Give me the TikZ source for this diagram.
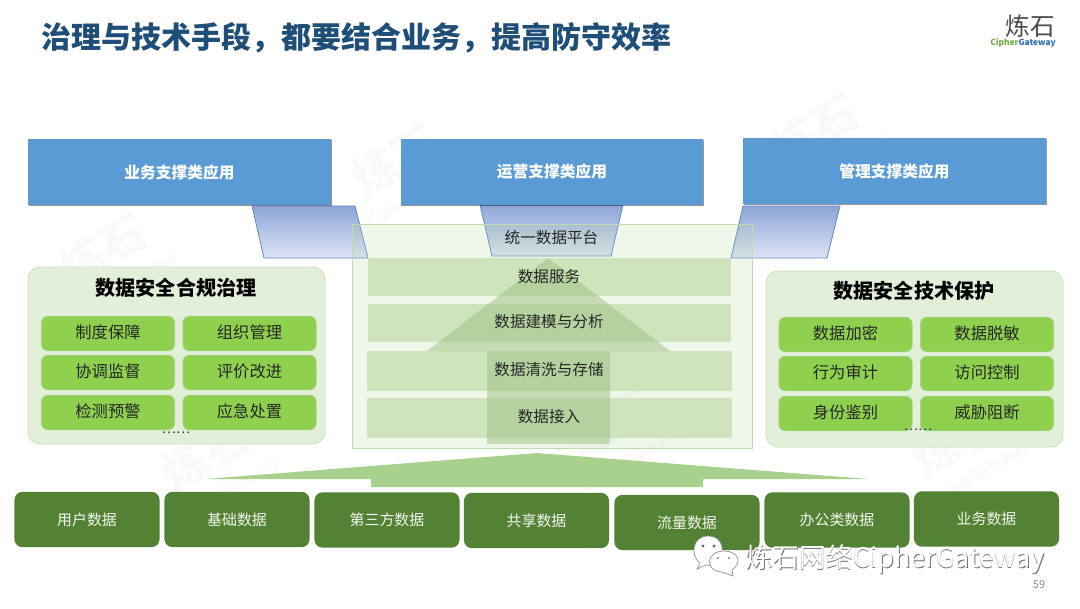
\documentclass[tikz,border=0pt]{standalone}
\usepackage{fontspec}
\setmainfont{Noto Sans CJK SC}
\usetikzlibrary{shadows}
\definecolor{appblue}{HTML}{5B9BD5}
\definecolor{titleblue}{HTML}{1F4E79}
\definecolor{panelfill}{HTML}{E2EFD9}
\definecolor{panelline}{HTML}{C9E2B8}
\definecolor{tilegreen}{HTML}{8FD14F}
\definecolor{tileline}{HTML}{A9D18E}
\definecolor{rowgreen}{HTML}{CDE4BC}
\definecolor{sourcegreen}{HTML}{548235}
\definecolor{arrowgreen}{HTML}{A9D18E}
\definecolor{stemgreen}{HTML}{9DC283}
\definecolor{linkline}{HTML}{4472C4}
\definecolor{linktop}{HTML}{8EA5D8}
\definecolor{linkbottom}{HTML}{DEE5F5}
\tikzset{
  appbox/.style={fill=appblue,text=white,font=\fontsize{11.8}{14}\selectfont\bfseries,
    drop shadow={shadow xshift=.5pt,shadow yshift=-1pt,opacity=.4,fill=black}},
  linkshape/.style={draw=linkline!85,line width=.6pt,top color=linktop,bottom color=linkbottom},
  groupbox/.style={draw=panelline,line width=.6pt,fill=panelfill,rounded corners=9pt},
  grouptitle/.style={font=\fontsize{15.1}{18}\selectfont\bfseries,text=black},
  tile/.style={draw=tileline,line width=.5pt,fill=tilegreen,rounded corners=5pt,text=black!85,font=\fontsize{12.2}{14}\selectfont},
  layerrow/.style={fill=rowgreen},
  layerlabel/.style={inner sep=0,text=black!85,font=\fontsize{11.7}{14}\selectfont},
  sourcebox/.style={fill=sourcegreen,rounded corners=6pt,text=white!92!sourcegreen,font=\fontsize{11.2}{14}\selectfont},
  seal/.style={text=black,opacity=.022,font=\fontsize{34}{36}\selectfont\bfseries,rotate=30},
  sealsub/.style={text=black,opacity=.022,font=\fontsize{11}{12}\selectfont\bfseries,rotate=30},
  bubble/.style={draw=black!45,line width=.5pt,fill=white}
}
\begin{document}
\begin{tikzpicture}[x=.75pt,y=-.75pt]
\useasboundingbox (0,0) rectangle (1080,608);
\clip (0,0) rectangle (1080,608);
\fill[white] (0,0) rectangle (1080,608);

% heading and logo
\node[anchor=west,inner sep=0,text=titleblue,font=\fontsize{22.5}{26}\selectfont\bfseries] (heading) at (41,38) {治理与技术手段，都要结合业务，提高防守效率};
\node[inner sep=0,text=black!70,font=\fontsize{18.5}{20}\selectfont] (logomark) at (1030,26) {炼石};
\node[inner sep=0,font=\fontsize{6.3}{7}\selectfont\bfseries] (logotext) at (1023,43) {\textcolor[HTML]{70AD47}{Cipher}\textcolor[HTML]{2F6EB5}{Gateway}};

% faint stamps behind the content
\foreach \px/\py/\n in {103/250/a,395/160/b,815/130/c,205/455/d,610/425/e,955/440/f}{
  \node[seal] (stamp\n) at (\px,\py) {炼石};
  \node[sealsub] (stampsub\n) at (\px+24,\py+35) {CipherGateway};
}

% connecting parallelograms below the application boxes
\path[linkshape] (252,206) -- (355,206) -- (368,258) -- (264,258) -- cycle;
\path[linkshape] (480,205) -- (623,205) -- (611,256) -- (492,256) -- cycle;
\path[linkshape] (743,206) -- (840,206) -- (827,258) -- (731,258) -- cycle;

% application boxes
\node[appbox,minimum width=227pt,minimum height=49.5pt,inner sep=0] (appA) at (179.5,172) {\raisebox{.7pt}{业务支撑类应用}};
\node[appbox,minimum width=227pt,minimum height=49.5pt,inner sep=0] (appB) at (552,172) {\raisebox{.7pt}{运营支撑类应用}};
\node[appbox,minimum width=227pt,minimum height=49.5pt,inner sep=0] (appC) at (894.5,171) {\raisebox{.7pt}{管理支撑类应用}};

% central platform panel
\path[draw=arrowgreen!75,line width=.7pt,fill=arrowgreen,fill opacity=.18] (352,224) rectangle (752,448);
\node[layerlabel] (platform) at (551.5,238) {统一数据平台};

% layer rows
\node[layerrow,minimum width=272pt,minimum height=28.5pt,inner sep=0] (rowA) at (549.75,277) {};
\node[layerrow,minimum width=272pt,minimum height=28.5pt,inner sep=0] (rowB) at (549.75,323) {};
\node[layerrow,minimum width=274pt,minimum height=30pt,inner sep=0] (rowC) at (549.5,371) {};
\node[layerrow,minimum width=274pt,minimum height=30pt,inner sep=0] (rowD) at (549.5,418) {};

% upward arrow across the layers
\fill[stemgreen,opacity=.5] (548,258) -- (670,351) -- (610,351) -- (610,444) -- (487,444) -- (487,351) -- (427,351) -- cycle;

\node[layerlabel] (labelA) at (549,277) {数据服务};
\node[layerlabel] (labelB) at (549,322) {数据建模与分析};
\node[layerlabel] (labelC) at (549,370) {数据清洗与存储};
\node[layerlabel] (labelD) at (549,417) {数据接入};

% left group
\path[groupbox] (28,267) rectangle (325,444);
\node[grouptitle,inner sep=0] (leftTitle) at (176,288) {数据安全合规治理};
\foreach \cx/\cy/\n/\t in {108/333.5/a/制度保障,249.5/333.5/b/组织管理,108/372.5/c/协调监督,249.5/372.5/d/评价改进,108/412.5/e/检测预警,249.5/412.5/f/应急处置}{
  \node[tile,minimum width=100pt,minimum height=26pt,inner sep=0] (left\n) at (\cx,\cy) {\raisebox{2.4pt}{\t}};
}
\node[inner sep=0,font=\fontsize{10}{10}\selectfont,text=black!80] (leftMore) at (176,433) {……};

% right group
\path[groupbox] (766,271) rectangle (1063,447);
\node[grouptitle,inner sep=0] (rightTitle) at (914,291) {数据安全技术保护};
\foreach \cx/\cy/\n/\t in {845.5/334.5/a/数据加密,987/334.5/b/数据脱敏,845.5/373.5/c/行为审计,987/373.5/d/访问控制,845.5/413.5/e/身份鉴别,987/413.5/f/威胁阻断}{
  \node[tile,minimum width=100pt,minimum height=26pt,inner sep=0] (right\n) at (\cx,\cy) {\raisebox{2.4pt}{\t}};
}
\node[inner sep=0,font=\fontsize{10}{10}\selectfont,text=black!80] (rightMore) at (918,430) {……};

% wide arrow above the data sources
\fill[arrowgreen] (537,453) -- (868,479) -- (703,479) -- (703,487) -- (371,487) -- (371,479) -- (205,479) -- cycle;

% data sources
\foreach \cx/\cy/\n/\t in {87/519.5/a/用户数据,237/519.5/b/基础数据,387/520/c/第三方数据,536.5/520.5/d/共享数据,687/522.5/e/流量数据,837/520/f/办公类数据,986.5/519/g/业务数据}{
  \node[sourcebox,minimum width=108.8pt,minimum height=41.5pt,inner sep=0] (source\n) at (\cx,\cy) {\raisebox{.6pt}{\t}};
}

% chat icon and caption in the lower corner
\path[bubble] (708,536) .. controls (692,536) and (690,556) .. (700,563) -- (697,569) -- (706,565) .. controls (724,569) and (730,536) .. (708,536) -- cycle;
\fill[black!60] (703,546) circle (1.7) (714,546) circle (1.7);
\path[bubble] (724,551) .. controls (706,551) and (704,571) .. (722,572) -- (733,576) -- (732,570) .. controls (743,562) and (738,551) .. (724,551) -- cycle;
\fill[black!50] (718,558) circle (1.2) (729,558) circle (1.2);
\node[inner sep=0,anchor=west,text=black!55,font=\fontsize{20.2}{24}\selectfont] (captionShade) at (745.8,560.6) {炼石网络CipherGateway};
\node[inner sep=0,anchor=west,text=white,font=\fontsize{20.2}{24}\selectfont] (caption) at (745,559.5) {炼石网络CipherGateway};
\node[inner sep=0,text=black!45,font=\fontsize{8.2}{10}\selectfont] (pageno) at (1039,585) {59};
\end{tikzpicture}
\end{document}
